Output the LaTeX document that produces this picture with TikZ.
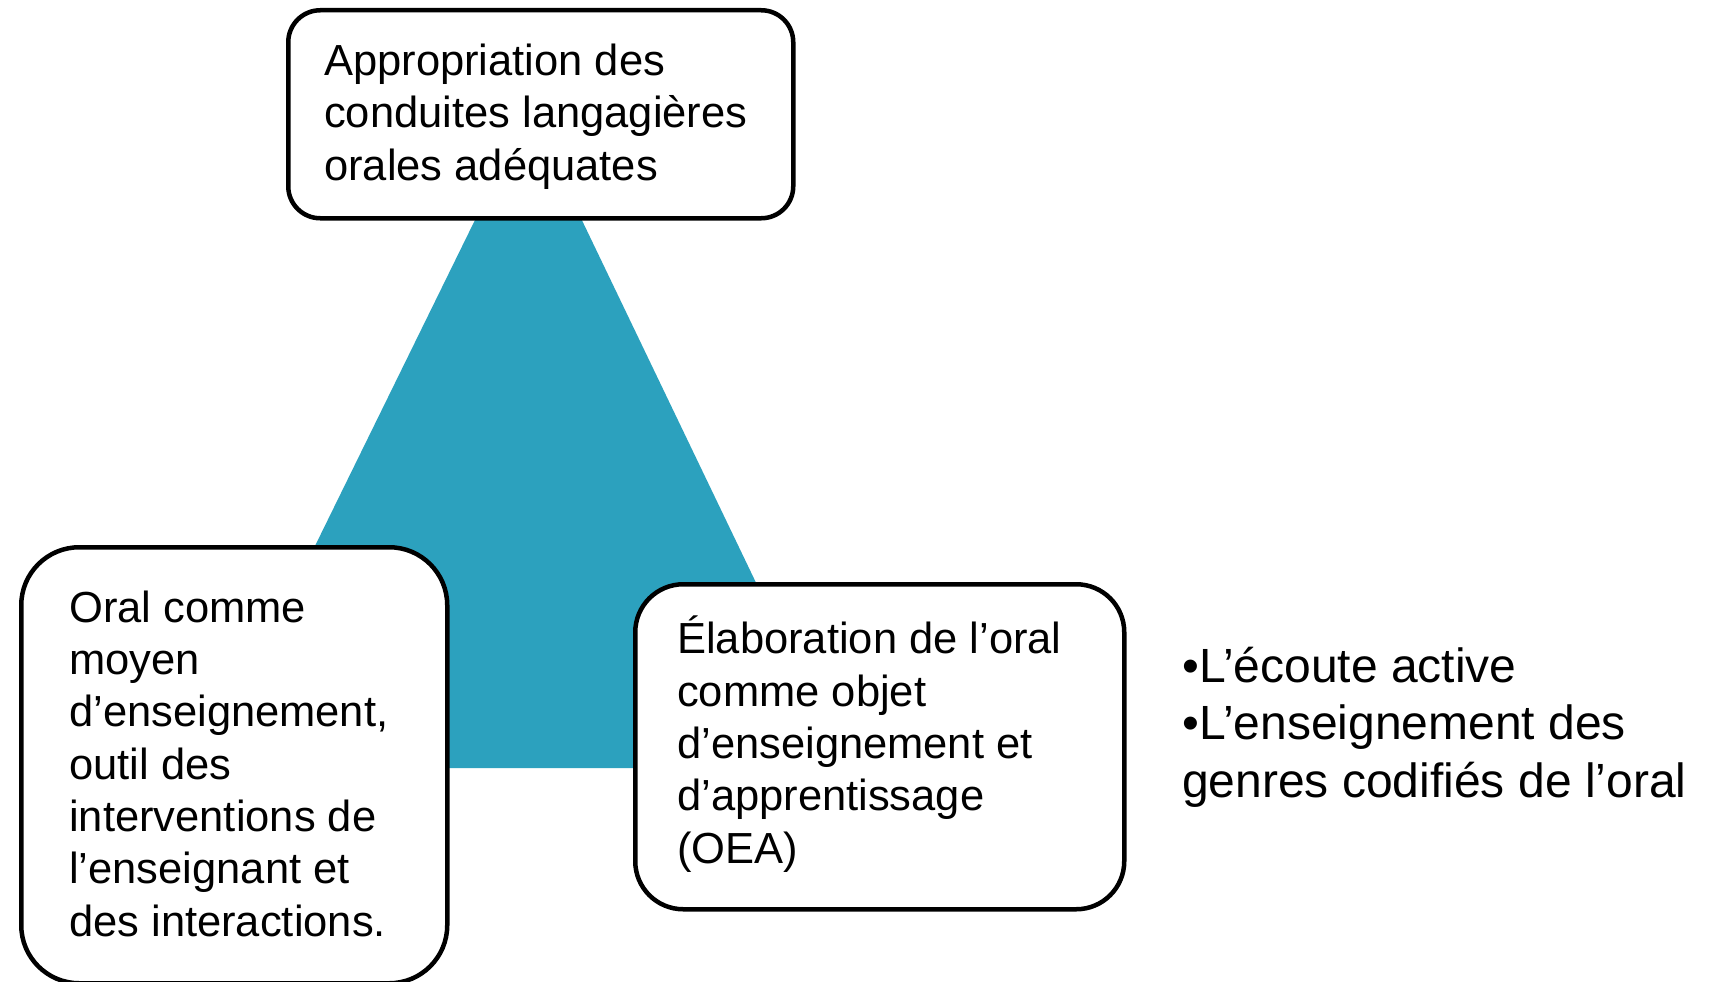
\documentclass[tikz,border=0pt]{standalone}
\usepackage{fontspec}
\setmainfont{Liberation Sans}
\definecolor{teal1}{HTML}{2CA1BE}
\tikzset{
  box/.style={draw=black, line width=4.5pt, fill=white, rounded corners=#1, anchor=north west},
  boxtext/.style={font=\fontsize{43.5}{52.3}\selectfont, anchor=base west, align=left, inner sep=0pt},
}
\begin{document}
\begin{tikzpicture}[x=1pt,y=-1pt]
\useasboundingbox[fill=white] (0,0) rectangle (1713,982);
\coordinate (apex) at (529,110);
\coordinate (bl) at (206,768);
\coordinate (br) at (845,768);
\fill[teal1] (apex) -- (br) -- (bl) -- cycle;
\node[box=32pt, minimum width=505pt, minimum height=208pt] (top) at (286,8) {};
\node[boxtext] (toptext) at (324,180) {Appropriation des\\conduites langagières\\orales adéquates};
\node[box=58pt, minimum width=426pt, minimum height=436pt] (left) at (19,545) {};
\node[boxtext] (lefttext) at (69,936) {Oral comme\\moyen\\d’enseignement,\\outil des\\interventions de\\l’enseignant et\\des interactions.};
\node[box=48pt, minimum width=489pt, minimum height=325pt] (right) at (633,582) {};
\node[boxtext] (righttext) at (677,863) {Élaboration de l’oral\\comme objet\\d’enseignement et\\d’apprentissage\\(OEA)};
\node[font=\fontsize{48}{57.5}\selectfont, anchor=base west, align=left, inner sep=0pt] (notes) at (1182,797) {•L’écoute active\\•L’enseignement des\\genres codifiés de l’oral};
\end{tikzpicture}
\end{document}
